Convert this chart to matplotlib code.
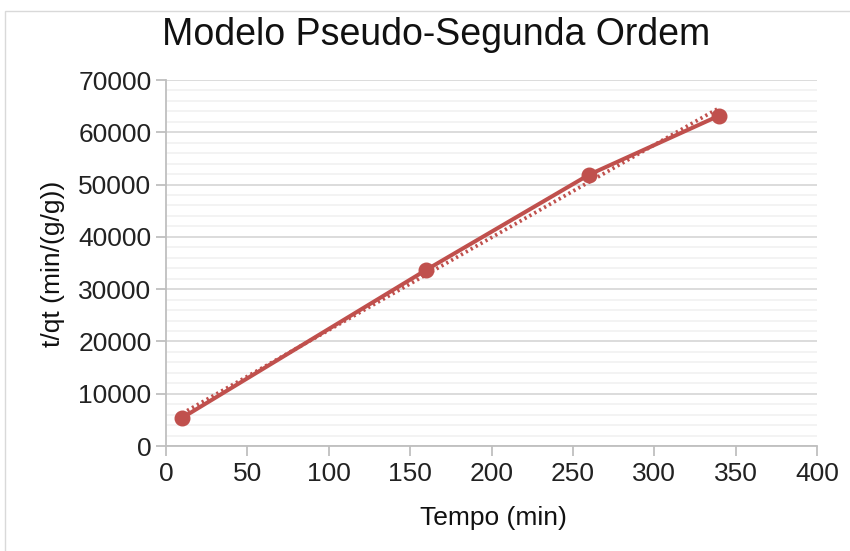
import numpy as np
import matplotlib.pyplot as plt
from matplotlib.patches import Rectangle
from matplotlib.ticker import MultipleLocator

plt.rcParams['font.family'] = ['Liberation Sans', 'DejaVu Sans']

# --- data ---
tempo = [10, 160, 260, 340]
t_qt = [5400, 33700, 51900, 63200]

RED = '#c0504d'

# linear trendline (dotted)
coef = np.polyfit(tempo, t_qt, 1)
x_fit = np.array([min(tempo), max(tempo)])
y_fit = np.polyval(coef, x_fit)

W, H = 850, 551
fig = plt.figure(figsize=(8.5, 5.51), dpi=100)
ax = fig.add_axes([166 / W, 1 - 446 / H, (817 - 166) / W, (446 - 80) / H])

# chart frame
fig.patches.append(Rectangle((5 / W, -0.1), 2.0, 1.1 - 11 / H, transform=fig.transFigure,
                             fill=False, edgecolor='#d9d9d9', lw=1))

ax.plot(x_fit, y_fit, ls=(0, (0.6, 0.9)), color=RED, lw=2.7, zorder=3)
ax.plot(tempo, t_qt, '-o', color=RED, lw=2.9, ms=10.5, zorder=4)

ax.set_xlim(0, 400)
ax.set_ylim(0, 70000)
ax.xaxis.set_major_locator(MultipleLocator(50))
ax.yaxis.set_major_locator(MultipleLocator(10000))
ax.yaxis.set_minor_locator(MultipleLocator(2000))

ax.grid(axis='y', which='major', color='#d9d9d9', lw=1.3, zorder=0)
ax.grid(axis='y', which='minor', color='#f2f2f2', lw=1.3, zorder=0)
ax.set_axisbelow(True)

for s in ['top', 'right']:
    ax.spines[s].set_visible(False)
for s in ['left', 'bottom']:
    ax.spines[s].set_color('#bfbfbf')
    ax.spines[s].set_linewidth(1.3)

ax.tick_params(axis='both', which='major', direction='out', length=7.5, color='#bfbfbf',
               width=1.3, labelsize=19, labelcolor='#222222')
ax.tick_params(axis='y', which='minor', length=0)
ax.tick_params(axis='x', pad=4)
ax.tick_params(axis='y', pad=3)

fig.text(436 / W, 1 - 35 / H, 'Modelo Pseudo-Segunda Ordem', fontsize=27,
         color='#111111', ha='center', va='center')
fig.text(493 / W, 1 - 518 / H, 'Tempo (min)', fontsize=19,
         color='#111111', ha='center', va='center')
fig.text(53 / W, 1 - 264 / H, 't/qt (min/(g/g))', fontsize=19, rotation=90,
         color='#111111', ha='center', va='center')

fig.savefig('out.png', dpi=100)
